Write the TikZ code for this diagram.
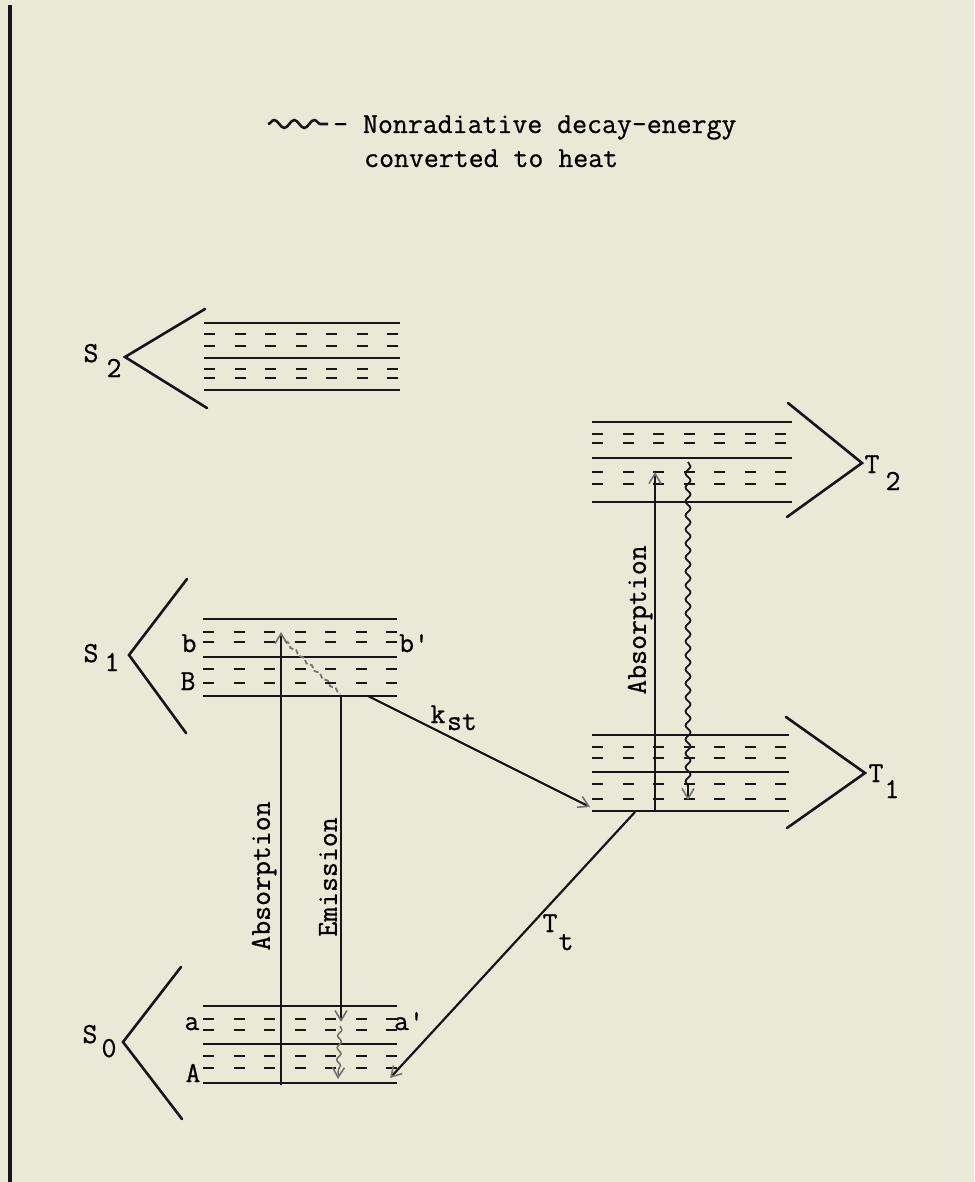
\documentclass[tikz,border=0pt]{standalone}
\usepackage{fontspec}
\newfontfamily\twfont[FakeBold=0.7]{Latin Modern Mono}
\usetikzlibrary{arrows.meta,decorations.pathmorphing}
\definecolor{paper}{RGB}{234,232,214}
\definecolor{ink}{RGB}{22,22,22}
\definecolor{pencil}{RGB}{115,115,110}
\newcommand{\lvlblock}[9]{%
  \draw[lvlsolid] (#1,#3) -- (#2,#3);
  \draw[lvldash] (#1,#4) -- (#2,#4);
  \draw[lvldash] (#1,#5) -- (#2,#5);
  \draw[lvlsolid] (#1,#6) -- (#2,#6);
  \draw[lvldash] (#1,#7) -- (#2,#7);
  \draw[lvldash] (#1,#8) -- (#2,#8);
  \draw[lvlsolid] (#1,#9) -- (#2,#9);
}
\begin{document}
\begin{tikzpicture}[x=1pt,y=-1pt,
  font=\fontsize{29}{34}\selectfont\twfont,
  lvlsolid/.style={draw=ink,line width=2.2pt},
  lvldash/.style={draw=ink,line width=2pt,dash pattern=on 11pt off 19.5pt},
  chev/.style={draw=ink,line width=2.6pt,line cap=round},
  conn/.style={draw=ink,line width=2.2pt},
  tipg/.style={-{Straight Barb[length=10pt,width=12pt,color=pencil,line width=1.6pt]}},
  wavy/.style={decorate,decoration={snake,amplitude=2.5pt,segment length=14pt,post length=8pt}},
  lbl/.style={inner sep=0pt,anchor=base},
  vlbl/.style={inner sep=0pt,rotate=90}]
\useasboundingbox (0,0) rectangle (974,1182);
\fill[paper] (0,0) rectangle (974,1182);
% left border
\coordinate (bt) at (10,5);
\coordinate (bb) at (10,1182);
\draw[ink,line width=4pt] (bt) -- (bb);
% legend
\coordinate (lw1) at (268,124);
\coordinate (lw2) at (328,124);
\draw[ink,line width=2.6pt,decorate,decoration={snake,amplitude=4pt,segment length=20pt}] (lw1) -- (lw2);
\node[inner sep=0pt,anchor=base west] (leg1) at (333,133) {- Nonradiative decay-energy};
\node[inner sep=0pt,anchor=base west] (leg2) at (364,167) {converted to heat};
% level blocks
\lvlblock{204}{400}{323}{334}{346}{358}{369}{378}{390}
\lvlblock{592}{792}{422}{434}{443}{458}{472}{484}{502}
\lvlblock{203}{397}{619}{632}{642}{657}{669}{683}{696}
\lvlblock{592}{789}{735}{747}{758}{772}{784}{799}{811}
\lvlblock{203}{397}{1006}{1019}{1030}{1044}{1056}{1068}{1083}
% chevrons
\draw[chev] (205,309) -- (125,357) -- (207,408);
\draw[chev] (187,579) -- (129,655) -- (186,733);
\draw[chev] (181,967) -- (123,1042) -- (182,1119);
\draw[chev] (788,403) -- (862,463) -- (787,517);
\draw[chev] (786,717) -- (865,773) -- (787,828);
% state labels
\node[lbl] (S2l) at (91,362) {S};
\node[lbl] (S2s) at (114,377) {2};
\node[lbl] (S1l) at (91,662) {S};
\node[lbl] (S1s) at (112,671) {1};
\node[lbl] (S0l) at (90,1043) {S};
\node[lbl] (S0s) at (109,1057) {0};
\node[lbl] (T2l) at (872,473) {T};
\node[lbl] (T2s) at (893,490) {2};
\node[lbl] (T1l) at (876,782) {T};
\node[lbl] (T1s) at (892,798) {1};
% sublevel labels
\node[lbl] (lb) at (189,652) {b};
\node[lbl] (lbp) at (414,652) {b'};
\node[lbl] (lB) at (188,690) {B};
\node[lbl] (la) at (192,1030) {a};
\node[lbl] (lap) at (409,1030) {a'};
\node[lbl] (lA) at (193,1082) {A};
% transition labels
\node[lbl] (kk) at (438,723) {k};
\node[lbl] (kst) at (462,730) {st};
\node[lbl] (Tt) at (550,932) {T};
\node[lbl] (Ttt) at (566,950) {t};
\node[vlbl] (absL) at (264,876) {Absorption};
\node[vlbl] (emis) at (328,877) {Emission};
\node[vlbl] (absR) at (640,620) {Absorption};
% connectors
\coordinate (aBot) at (281,1085);
\coordinate (bTop) at (281,632);
\draw[conn,tipg] (aBot) -- (bTop);
\coordinate (bDec) at (285,641);
\coordinate (BDec) at (340,694);
\draw[pencil,line width=1.8pt,dash pattern=on 5pt off 2.5pt,decorate,decoration={snake,amplitude=1.2pt,segment length=11pt}] (bDec) -- (BDec);
\coordinate (Bem) at (341,696);
\coordinate (aEm) at (341,1022);
\draw[conn,tipg] (Bem) -- (aEm);
\coordinate (aDec) at (340,1026);
\coordinate (ADec) at (338,1079);
\draw[pencil,line width=1.6pt,decorate,decoration={snake,amplitude=2pt,segment length=12pt,post length=8pt},tipg] (aDec) -- (ADec);
\coordinate (kA) at (368,696);
\coordinate (kB) at (590,807);
\draw[conn,tipg] (kA) -- (kB);
\coordinate (tA) at (635,812);
\coordinate (tB) at (390,1078);
\draw[conn,tipg] (tA) -- (tB);
\coordinate (t1Bot) at (655,811);
\coordinate (t2Top) at (655,472);
\draw[conn,tipg] (t1Bot) -- (t2Top);
\coordinate (t2Dec) at (688,462);
\coordinate (t1Dec) at (688,800);
\draw[ink,line width=1.8pt,wavy,tipg] (t2Dec) -- (t1Dec);
\end{tikzpicture}
\end{document}
